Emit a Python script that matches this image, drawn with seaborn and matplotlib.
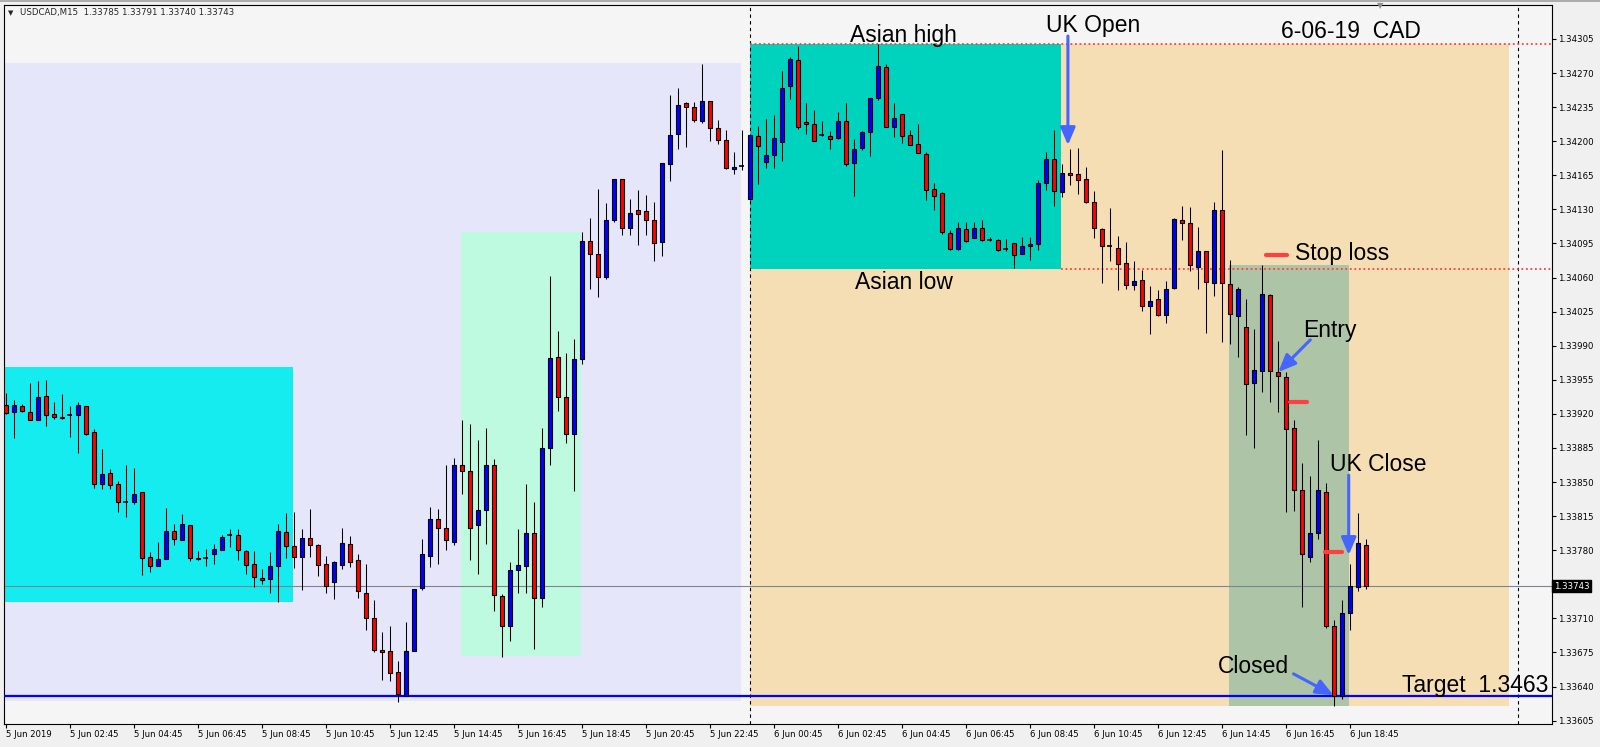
import numpy as np
import pandas as pd
import matplotlib
matplotlib.use("Agg")
import matplotlib.pyplot as plt
from matplotlib.patches import Rectangle
from matplotlib.lines import Line2D
import seaborn as sns

# USDCAD M15 candles, 5 Jun 00:45 -> 6 Jun 19:15
opens = [
    1.33929, 1.33922, 1.33928, 1.33922, 1.33914, 1.33938, 1.33920, 1.33917, 1.33919, 1.33919,
    1.33928, 1.33901, 1.33848, 1.33859, 1.33848, 1.33829, 1.33829, 1.33840, 1.33773, 1.33764,
    1.33771, 1.33800, 1.33790, 1.33806, 1.33772, 1.33772, 1.33776, 1.33780, 1.33796, 1.33796,
    1.33779, 1.33766, 1.33751, 1.33750, 1.33764, 1.33799, 1.33784, 1.33773, 1.33793, 1.33785,
    1.33766, 1.33747, 1.33765, 1.33786, 1.33770, 1.33736, 1.33710, 1.33678, 1.33676, 1.33655,
    1.33630, 1.33676, 1.33741, 1.33774, 1.33812, 1.33803, 1.33788, 1.33868, 1.33861, 1.33806,
    1.33821, 1.33868, 1.33733, 1.33702, 1.33760, 1.33764, 1.33798, 1.33731, 1.33885, 1.33978,
    1.33937, 1.33899, 1.33976, 1.34098, 1.34084, 1.34061, 1.34119, 1.34161, 1.34111, 1.34129,
    1.34128, 1.34119, 1.34097, 1.34177, 1.34207, 1.34239, 1.34235, 1.34221, 1.34241, 1.34214,
    1.34201, 1.34171, 1.34175, 1.34141, 1.34205, 1.34179, 1.34186, 1.34199, 1.34257, 1.34283,
    1.34220, 1.34218, 1.34206, 1.34205, 1.34203, 1.34221, 1.34178, 1.34193, 1.34209, 1.34244,
    1.34276, 1.34215, 1.34228, 1.34206, 1.34197, 1.34187, 1.34151, 1.34147, 1.34106, 1.34089,
    1.34110, 1.34101, 1.34111, 1.34099, 1.34099, 1.34089, 1.34095, 1.34084, 1.34092, 1.34094,
    1.34157, 1.34182, 1.34148, 1.34167, 1.34166, 1.34161, 1.34138, 1.34110, 1.34092, 1.34090,
    1.34075, 1.34052, 1.34057, 1.34031, 1.34038, 1.34022, 1.34049, 1.34119, 1.34116, 1.34071,
    1.34087, 1.34054, 1.34129, 1.34053, 1.34021, 1.34009, 1.33952, 1.33964, 1.34042, 1.33963,
    1.33958, 1.33906, 1.33842, 1.33773, 1.33798, 1.33840, 1.33702, 1.33630, 1.33715, 1.33742,
    1.33785,
]
highs = [
    1.33941, 1.33934, 1.33930, 1.33952, 1.33954, 1.33955, 1.33932, 1.33940, 1.33928, 1.33932,
    1.33928, 1.33904, 1.33884, 1.33863, 1.33851, 1.33868, 1.33864, 1.33840, 1.33778, 1.33788,
    1.33823, 1.33807, 1.33817, 1.33806, 1.33779, 1.33781, 1.33786, 1.33796, 1.33802, 1.33802,
    1.33780, 1.33779, 1.33761, 1.33778, 1.33807, 1.33818, 1.33819, 1.33802, 1.33822, 1.33786,
    1.33774, 1.33769, 1.33803, 1.33795, 1.33776, 1.33766, 1.33729, 1.33696, 1.33702, 1.33666,
    1.33706, 1.33740, 1.33792, 1.33824, 1.33822, 1.33867, 1.33875, 1.33914, 1.33910, 1.33893,
    1.33906, 1.33874, 1.33735, 1.33768, 1.33802, 1.33848, 1.33830, 1.33906, 1.34062, 1.34005,
    1.33982, 1.33997, 1.34107, 1.34121, 1.34151, 1.34137, 1.34161, 1.34161, 1.34141, 1.34150,
    1.34145, 1.34138, 1.34178, 1.34247, 1.34255, 1.34240, 1.34240, 1.34279, 1.34241, 1.34222,
    1.34212, 1.34189, 1.34212, 1.34206, 1.34216, 1.34223, 1.34227, 1.34272, 1.34286, 1.34298,
    1.34239, 1.34232, 1.34221, 1.34210, 1.34230, 1.34239, 1.34202, 1.34210, 1.34244, 1.34300,
    1.34279, 1.34239, 1.34228, 1.34212, 1.34218, 1.34189, 1.34157, 1.34148, 1.34109, 1.34117,
    1.34117, 1.34117, 1.34119, 1.34102, 1.34100, 1.34100, 1.34095, 1.34102, 1.34102, 1.34160,
    1.34189, 1.34212, 1.34177, 1.34192, 1.34193, 1.34174, 1.34149, 1.34111, 1.34131, 1.34103,
    1.34097, 1.34077, 1.34068, 1.34051, 1.34047, 1.34056, 1.34121, 1.34133, 1.34132, 1.34112,
    1.34087, 1.34138, 1.34191, 1.34078, 1.34050, 1.34038, 1.34007, 1.34073, 1.34043, 1.33995,
    1.33963, 1.33914, 1.33870, 1.33856, 1.33893, 1.33849, 1.33708, 1.33729, 1.33766, 1.33818,
    1.33791,
]
lows = [
    1.33920, 1.33895, 1.33922, 1.33914, 1.33914, 1.33908, 1.33915, 1.33915, 1.33896, 1.33880,
    1.33898, 1.33844, 1.33843, 1.33843, 1.33819, 1.33814, 1.33827, 1.33755, 1.33758, 1.33764,
    1.33771, 1.33785, 1.33790, 1.33769, 1.33770, 1.33764, 1.33766, 1.33780, 1.33783, 1.33770,
    1.33756, 1.33742, 1.33745, 1.33736, 1.33727, 1.33772, 1.33762, 1.33739, 1.33773, 1.33754,
    1.33736, 1.33730, 1.33761, 1.33763, 1.33731, 1.33698, 1.33675, 1.33647, 1.33646, 1.33624,
    1.33630, 1.33676, 1.33739, 1.33763, 1.33766, 1.33780, 1.33785, 1.33838, 1.33770, 1.33756,
    1.33786, 1.33718, 1.33670, 1.33687, 1.33736, 1.33736, 1.33679, 1.33722, 1.33867, 1.33923,
    1.33890, 1.33841, 1.33971, 1.34048, 1.34040, 1.34058, 1.34117, 1.34104, 1.34104, 1.34093,
    1.34104, 1.34077, 1.34082, 1.34159, 1.34192, 1.34194, 1.34220, 1.34219, 1.34200, 1.34197,
    1.34171, 1.34166, 1.34170, 1.34140, 1.34156, 1.34172, 1.34172, 1.34180, 1.34243, 1.34213,
    1.34207, 1.34200, 1.34205, 1.34192, 1.34202, 1.34175, 1.34144, 1.34191, 1.34185, 1.34242,
    1.34215, 1.34204, 1.34198, 1.34196, 1.34188, 1.34140, 1.34129, 1.34105, 1.34088, 1.34088,
    1.34096, 1.34101, 1.34098, 1.34098, 1.34087, 1.34087, 1.34070, 1.34084, 1.34078, 1.34088,
    1.34150, 1.34133, 1.34143, 1.34155, 1.34146, 1.34137, 1.34101, 1.34054, 1.34077, 1.34047,
    1.34048, 1.34047, 1.34026, 1.34002, 1.34020, 1.34013, 1.34048, 1.34099, 1.34067, 1.34048,
    1.34003, 1.34041, 1.33994, 1.33992, 1.33978, 1.33898, 1.33885, 1.33942, 1.33932, 1.33922,
    1.33819, 1.33820, 1.33722, 1.33768, 1.33792, 1.33700, 1.33620, 1.33627, 1.33698, 1.33738,
    1.33740,
]
closes = [
    1.33921, 1.33929, 1.33923, 1.33914, 1.33937, 1.33919, 1.33917, 1.33916, 1.33919, 1.33929,
    1.33899, 1.33848, 1.33858, 1.33847, 1.33830, 1.33829, 1.33838, 1.33772, 1.33764, 1.33771,
    1.33800, 1.33792, 1.33807, 1.33772, 1.33771, 1.33772, 1.33781, 1.33794, 1.33796, 1.33780,
    1.33765, 1.33752, 1.33749, 1.33764, 1.33800, 1.33784, 1.33773, 1.33793, 1.33785, 1.33765,
    1.33743, 1.33768, 1.33787, 1.33768, 1.33738, 1.33710, 1.33677, 1.33675, 1.33654, 1.33632,
    1.33676, 1.33740, 1.33776, 1.33812, 1.33803, 1.33790, 1.33868, 1.33861, 1.33803, 1.33821,
    1.33867, 1.33734, 1.33702, 1.33760, 1.33765, 1.33798, 1.33731, 1.33885, 1.33977, 1.33937,
    1.33899, 1.33976, 1.34098, 1.34084, 1.34061, 1.34119, 1.34161, 1.34111, 1.34126, 1.34125,
    1.34119, 1.34095, 1.34178, 1.34206, 1.34237, 1.34235, 1.34222, 1.34241, 1.34214, 1.34201,
    1.34172, 1.34174, 1.34175, 1.34206, 1.34195, 1.34186, 1.34203, 1.34255, 1.34284, 1.34215,
    1.34218, 1.34200, 1.34206, 1.34202, 1.34221, 1.34177, 1.34192, 1.34209, 1.34244, 1.34277,
    1.34215, 1.34224, 1.34205, 1.34196, 1.34188, 1.34150, 1.34144, 1.34107, 1.34089, 1.34111,
    1.34098, 1.34111, 1.34099, 1.34099, 1.34088, 1.34089, 1.34083, 1.34092, 1.34094, 1.34157,
    1.34182, 1.34149, 1.34167, 1.34165, 1.34160, 1.34138, 1.34111, 1.34092, 1.34092, 1.34074,
    1.34052, 1.34056, 1.34031, 1.34036, 1.34022, 1.34048, 1.34120, 1.34116, 1.34073, 1.34087,
    1.34055, 1.34129, 1.34054, 1.34023, 1.34048, 1.33951, 1.33965, 1.34043, 1.33964, 1.33959,
    1.33904, 1.33842, 1.33776, 1.33798, 1.33842, 1.33702, 1.33630, 1.33715, 1.33743, 1.33787,
    1.33743,
]

# one label every 8 bars (2 hours)
time_labels = [
    "5 Jun 2019", "5 Jun 02:45", "5 Jun 04:45", "5 Jun 06:45", "5 Jun 08:45", "5 Jun 10:45",
    "5 Jun 12:45", "5 Jun 14:45", "5 Jun 16:45", "5 Jun 18:45", "5 Jun 20:45", "5 Jun 22:45",
    "6 Jun 00:45", "6 Jun 02:45", "6 Jun 04:45", "6 Jun 06:45", "6 Jun 08:45", "6 Jun 10:45",
    "6 Jun 12:45", "6 Jun 14:45", "6 Jun 16:45", "6 Jun 18:45",
]
price_ticks = [
    1.34305, 1.34270, 1.34235, 1.34200, 1.34165, 1.34130, 1.34095, 1.34060, 1.34025, 1.33990,
    1.33955, 1.33920, 1.33885, 1.33850, 1.33815, 1.33780, 1.33710, 1.33675, 1.33640, 1.33605,
]

asian_high = 1.34300
asian_low = 1.34069
target = 1.33630
last_price = closes[-1]

BLUE_ARROW = "#4466FF"
RED_MARK = "#FF4040"

sns.set_theme(style="white")
plt.rcParams["font.family"] = ["DejaVu Sans"]

fig = plt.figure(figsize=(16, 7.47), dpi=100, facecolor="#F0F0F0")
ax = fig.add_axes([4 / 1600, 23 / 747, 1548 / 1600, 719 / 747], facecolor="#F5F5F5")

df = pd.DataFrame({"open": opens, "high": highs, "low": lows, "close": closes})
df["bar"] = np.arange(len(df))

XMAX = 193.31
ax.set_xlim(-0.19, XMAX)
ax.set_ylim(1.336015, 1.343399)

# session / zone rectangles (bar index, price)
boxes = [
    (-0.19, 91.9, 1.33625, 1.34280, "#E6E6FA"),
    (-0.19, 35.9, 1.33727, 1.33968, "#14ECF0"),
    (56.9, 71.9, 1.33671, 1.34107, "#BEFADF"),
    (93.0, 187.9, 1.33620, 1.34300, "#F5DEB3"),
    (93.0, 131.9, 1.34069, 1.34300, "#00D3BD"),
    (152.9, 167.9, 1.33620, 1.34073, "#AEC4A7"),
]
for x0, x1, y0, y1, c in boxes:
    ax.add_patch(Rectangle((x0, y0), x1 - x0, y1 - y0, facecolor=c, edgecolor="none", zorder=1))

# day separators
for xv in (93, 189):
    ax.axvline(xv, color="black", lw=0.8, ls=(0, (3, 3)), zorder=2)

ax.axhline(last_price, color="#7D8591", lw=0.8, zorder=2.5)
ax.axhline(target, color="#0000FF", lw=1.6, zorder=3)
ax.hlines(asian_high, 93, XMAX, colors=RED_MARK, lw=1.3, linestyles=(0, (1, 1.5)), zorder=3)
ax.hlines(asian_low, 131.9, XMAX, colors=RED_MARK, lw=1.3, linestyles=(0, (1, 1.5)), zorder=3)

# candles
up = df[df["close"] > df["open"]]
dn = df[df["close"] < df["open"]]
flat = df[df["close"] == df["open"]]
ax.vlines(df["bar"], df["low"], df["high"], color="black", lw=0.75, zorder=4)
ax.bar(up["bar"], up["close"] - up["open"], bottom=up["open"], width=0.5,
       color="#0000FF", edgecolor="black", linewidth=0.8, zorder=5)
ax.bar(dn["bar"], dn["open"] - dn["close"], bottom=dn["close"], width=0.5,
       color="#FF0000", edgecolor="black", linewidth=0.8, zorder=5)
ax.hlines(flat["open"], flat["bar"] - 0.3, flat["bar"] + 0.3, color="black", lw=1.2, zorder=5)

# short red markers (stop / entry levels)
marks = [(157.6, 160.2, 1.34083), (160.6, 162.7, 1.33932), (164.9, 167.0, 1.33778)]
for x0, x1, y in marks:
    ax.plot([x0, x1], [y, y], color=RED_MARK, lw=3, solid_capstyle="round", zorder=6)

# arrows
arrows = [
    ((132.8, 1.34308), (132.8, 1.34196)),
    ((163.1, 1.33996), (159.1, 1.33963)),
    ((167.9, 1.33857), (167.9, 1.33775)),
    ((161.0, 1.33653), (166.0, 1.33631)),
]
for start, tip in arrows:
    ax.annotate("", xy=tip, xytext=start, zorder=7,
                arrowprops=dict(arrowstyle="-|>,head_length=0.75,head_width=0.32",
                                color=BLUE_ARROW, lw=2.2, shrinkA=0, shrinkB=0,
                                mutation_scale=14))

ann = dict(family=["Liberation Sans", "DejaVu Sans"], fontsize=16.5, color="black",
           va="baseline", zorder=8)
ax.text(105.6, 1.343024, "Asian high", ha="left", **ann)
ax.text(130.1, 1.343125, "UK Open", ha="left", **ann)
ax.text(159.4, 1.343055, "6-06-19  CAD", ha="left", **ann)
ax.text(106.2, 1.340487, "Asian low", ha="left", **ann)
ax.text(161.2, 1.340780, "Stop loss", ha="left", **ann)
ax.text(162.15, 1.339990, "Entry", ha="left", **ann)
ax.text(165.5, 1.338610, "UK Close", ha="left", **ann)
ax.text(151.6, 1.336540, "Closed", ha="left", **ann)
ax.text(192.9, 1.336340, "Target  1.3463", ha="right", **ann)

# axes styling like the terminal
ax.yaxis.tick_right()
ax.set_yticks(price_ticks)
ax.set_yticklabels([f"{p:.5f}" for p in price_ticks], fontsize=6.2)
ax.set_xticks(np.arange(0, 8 * len(time_labels), 8))
ax.set_xticklabels(time_labels, fontsize=6.1, ha="left")
ax.tick_params(axis="both", direction="out", length=3, width=0.8, color="black",
               labelcolor="black", pad=1.5, bottom=True, right=True, left=False, top=False)
ax.grid(False)
for s in ax.spines.values():
    s.set_color("black")
    s.set_linewidth(0.8)

ax.text(1.0012, last_price, f"{last_price:.5f}", transform=ax.get_yaxis_transform(),
        color="white", fontsize=6.2, va="center", ha="left", zorder=9,
        bbox=dict(boxstyle="square,pad=0.2", fc="black", ec="black"))

fig.text(8 / 1600, 1 - 12.7 / 747, "\u25bc", fontsize=5, va="center", ha="left")
fig.text(20 / 1600, 1 - 12.7 / 747, "USDCAD,M15  1.33785 1.33791 1.33740 1.33743",
         fontsize=6.2, va="center", ha="left")
fig.text(1380 / 1600, 1 - 6 / 747, "\u25bc", fontsize=6, color="#909090", va="center", ha="center")

# window border at the very top
fig.add_artist(Line2D([0, 1], [1 - 0.8 / 747, 1 - 0.8 / 747], color="#A0A0A0", lw=1.2,
                      transform=fig.transFigure))

fig.savefig("out.png", dpi=100, facecolor=fig.get_facecolor())
